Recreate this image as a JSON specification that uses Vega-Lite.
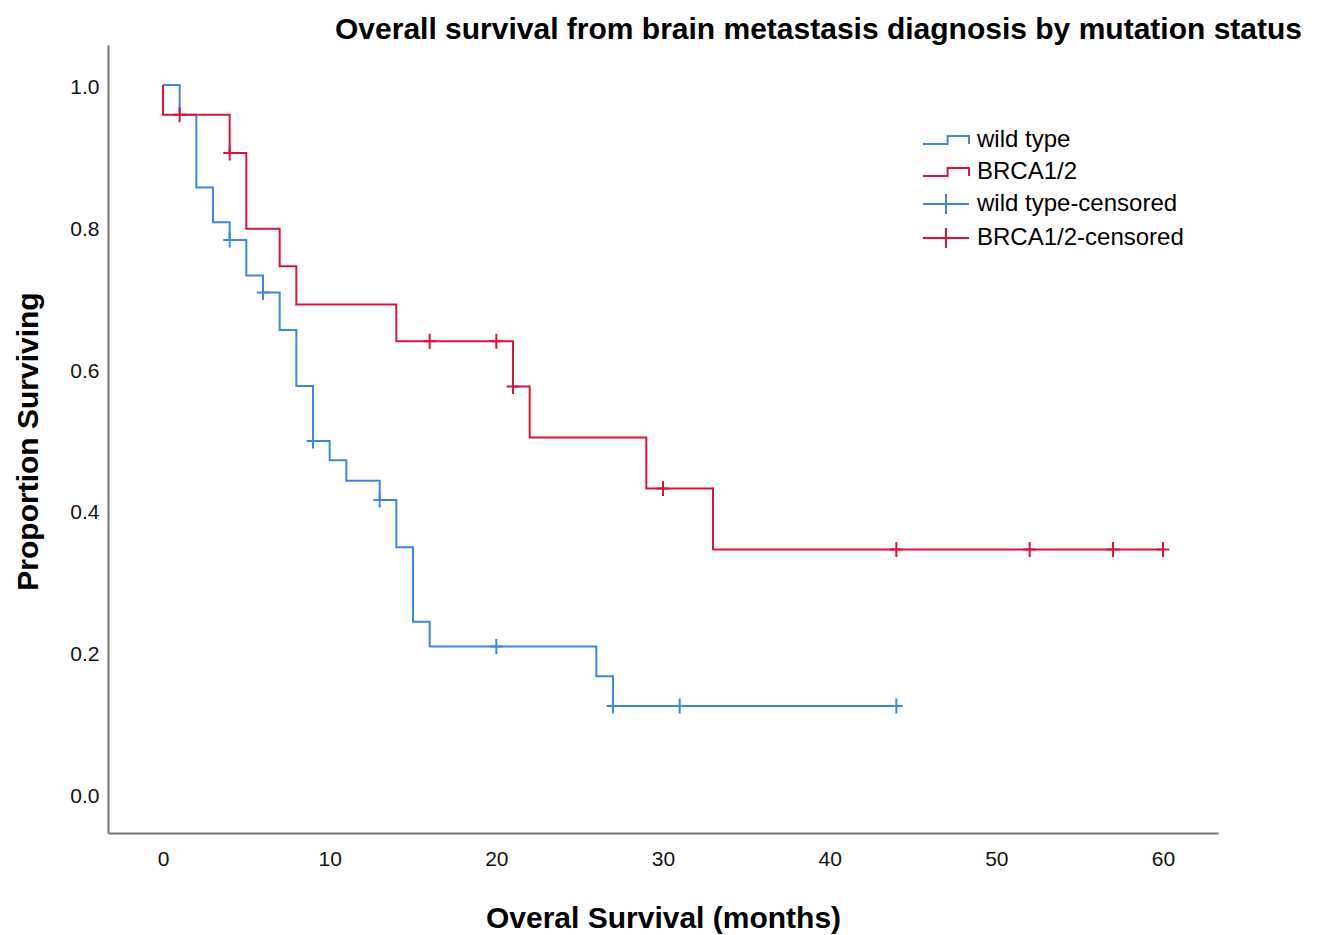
{
  "$schema": "https://vega.github.io/schema/vega-lite/v6.json",
  "width": 1110,
  "height": 788,
  "autosize": {"type": "none"},
  "padding": {"left": 108, "top": 45, "right": 105, "bottom": 102},
  "background": "white",
  "title": {
    "text": "Overall survival from brain metastasis diagnosis by mutation status",
    "anchor": "end",
    "frame": "group",
    "dx": 84,
    "dy": 32,
    "offset": 8,
    "baseline": "alphabetic",
    "fontSize": 30,
    "fontWeight": "bold",
    "font": "Liberation Sans",
    "color": "#000000"
  },
  "resolve": {
    "scale": {"color": "independent", "shape": "independent"},
    "legend": {"color": "independent", "shape": "independent"}
  },
  "config": {
    "view": {"stroke": null},
    "font": "Liberation Sans",
    "axis": {
      "grid": false,
      "ticks": false,
      "domainColor": "#767676",
      "domainWidth": 2,
      "labelFont": "Liberation Sans",
      "labelFontSize": 21,
      "labelColor": "#111111",
      "labelFlush": false,
      "labelOverlap": false,
      "titleFont": "Liberation Sans",
      "titleFontSize": 30,
      "titleFontWeight": "bold",
      "titleColor": "#000000"
    }
  },
  "datasets": {
    "curves": [
      {"series": "wild type", "t": 0, "s": 1.0, "k": 0},
      {"series": "wild type", "t": 1, "s": 0.958, "k": 1},
      {"series": "wild type", "t": 2, "s": 0.855, "k": 2},
      {"series": "wild type", "t": 3, "s": 0.806, "k": 3},
      {"series": "wild type", "t": 4, "s": 0.781, "k": 4},
      {"series": "wild type", "t": 5, "s": 0.731, "k": 5},
      {"series": "wild type", "t": 6, "s": 0.707, "k": 6},
      {"series": "wild type", "t": 7, "s": 0.654, "k": 7},
      {"series": "wild type", "t": 8, "s": 0.575, "k": 8},
      {"series": "wild type", "t": 9, "s": 0.497, "k": 9},
      {"series": "wild type", "t": 10, "s": 0.470, "k": 10},
      {"series": "wild type", "t": 11, "s": 0.441, "k": 11},
      {"series": "wild type", "t": 13, "s": 0.414, "k": 12},
      {"series": "wild type", "t": 14, "s": 0.347, "k": 13},
      {"series": "wild type", "t": 15, "s": 0.242, "k": 14},
      {"series": "wild type", "t": 16, "s": 0.207, "k": 15},
      {"series": "wild type", "t": 26, "s": 0.165, "k": 16},
      {"series": "wild type", "t": 27, "s": 0.123, "k": 17},
      {"series": "wild type", "t": 44, "s": 0.123, "k": 18},
      {"series": "BRCA1/2", "t": 0, "s": 1.0, "k": 0},
      {"series": "BRCA1/2", "t": 0, "s": 0.958, "k": 1},
      {"series": "BRCA1/2", "t": 4, "s": 0.904, "k": 2},
      {"series": "BRCA1/2", "t": 5, "s": 0.797, "k": 3},
      {"series": "BRCA1/2", "t": 7, "s": 0.744, "k": 4},
      {"series": "BRCA1/2", "t": 8, "s": 0.690, "k": 5},
      {"series": "BRCA1/2", "t": 14, "s": 0.638, "k": 6},
      {"series": "BRCA1/2", "t": 21, "s": 0.574, "k": 7},
      {"series": "BRCA1/2", "t": 22, "s": 0.502, "k": 8},
      {"series": "BRCA1/2", "t": 29, "s": 0.430, "k": 9},
      {"series": "BRCA1/2", "t": 33, "s": 0.344, "k": 10},
      {"series": "BRCA1/2", "t": 60, "s": 0.344, "k": 11}
    ],
    "censored": [
      {"series": "wild type-censored", "t": 4, "s": 0.781},
      {"series": "wild type-censored", "t": 6, "s": 0.707},
      {"series": "wild type-censored", "t": 9, "s": 0.497},
      {"series": "wild type-censored", "t": 13, "s": 0.414},
      {"series": "wild type-censored", "t": 20, "s": 0.207},
      {"series": "wild type-censored", "t": 27, "s": 0.123},
      {"series": "wild type-censored", "t": 31, "s": 0.123},
      {"series": "wild type-censored", "t": 44, "s": 0.123},
      {"series": "BRCA1/2-censored", "t": 1, "s": 0.958},
      {"series": "BRCA1/2-censored", "t": 4, "s": 0.904},
      {"series": "BRCA1/2-censored", "t": 16, "s": 0.638},
      {"series": "BRCA1/2-censored", "t": 20, "s": 0.638},
      {"series": "BRCA1/2-censored", "t": 21, "s": 0.574},
      {"series": "BRCA1/2-censored", "t": 30, "s": 0.430},
      {"series": "BRCA1/2-censored", "t": 44, "s": 0.344},
      {"series": "BRCA1/2-censored", "t": 52, "s": 0.344},
      {"series": "BRCA1/2-censored", "t": 57, "s": 0.344},
      {"series": "BRCA1/2-censored", "t": 60, "s": 0.344}
    ]
  },
  "encoding": {
    "x": {
      "field": "t",
      "type": "quantitative",
      "scale": {"domain": [-3.3, 63.3], "nice": false, "zero": false},
      "axis": {
        "values": [0, 10, 20, 30, 40, 50, 60],
        "title": "Overal Survival (months)",
        "labelPadding": 15,
        "titleX": 555,
        "titleY": 94,
        "titleAlign": "center",
        "titleBaseline": "alphabetic"
      }
    },
    "y": {
      "field": "s",
      "type": "quantitative",
      "scale": {"domain": [-0.0564, 1.0564], "nice": false, "zero": false},
      "axis": {
        "values": [0, 0.2, 0.4, 0.6, 0.8, 1.0],
        "format": ".1f",
        "title": "Proportion Surviving",
        "labelPadding": 9,
        "labelOffset": 3,
        "titleX": -71,
        "titleY": 396,
        "titleAngle": 270,
        "titleAlign": "center",
        "titleBaseline": "alphabetic"
      }
    }
  },
  "layer": [
    {
      "data": {"name": "curves"},
      "mark": {"type": "line", "interpolate": "step-after", "strokeWidth": 2},
      "encoding": {
        "color": {
          "field": "series",
          "type": "nominal",
          "scale": {
            "domain": ["wild type", "BRCA1/2"],
            "range": ["#3c88e0", "#dc143c"]
          },
          "legend": null
        },
        "order": {"field": "k", "type": "quantitative"}
      }
    },
    {
      "data": {"name": "censored"},
      "mark": {
        "type": "point",
        "shape": "M-0.85,0H0.85M0,-1V1",
        "size": 225,
        "filled": false,
        "strokeWidth": 2,
        "opacity": 1
      },
      "encoding": {
        "color": {
          "field": "series",
          "type": "nominal",
          "scale": {
            "domain": ["wild type-censored", "BRCA1/2-censored"],
            "range": ["#3c88e0", "#dc143c"]
          },
          "legend": null
        }
      }
    },
    {
      "data": {"name": "censored"},
      "mark": {"type": "point", "filled": false, "strokeWidth": 2, "opacity": 1, "size": 0},
      "encoding": {
        "color": {
          "field": "series",
          "type": "nominal",
          "scale": {
            "domain": ["wild type", "BRCA1/2", "wild type-censored", "BRCA1/2-censored"],
            "range": ["#3c88e0", "#dc143c", "#3c88e0", "#dc143c"]
          },
          "legend": {
            "title": null,
            "orient": "none",
            "legendX": 821,
            "legendY": 78,
            "padding": 0,
            "symbolSize": 1024,
            "symbolStrokeWidth": 2,
            "symbolFillColor": "transparent",
            "labelFontSize": 24,
            "labelFont": "Liberation Sans",
            "labelColor": "#000000",
            "labelOffset": 14,
            "labelLimit": 400,
            "rowPadding": 3
          }
        },
        "shape": {
          "field": "series",
          "type": "nominal",
          "scale": {
            "domain": ["wild type", "BRCA1/2", "wild type-censored", "BRCA1/2-censored"],
            "range": [
              "M-1.44,0.25H0.1V-0.25H1.44V0.25",
              "M-1.44,0.25H0.1V-0.25H1.44V0.25",
              "M-1.44,0H1.44M0,-0.62V0.62",
              "M-1.44,0H1.44M0,-0.62V0.62"
            ]
          },
          "legend": {
            "title": null,
            "orient": "none",
            "legendX": 821,
            "legendY": 78,
            "padding": 0,
            "symbolSize": 1024,
            "symbolStrokeWidth": 2,
            "symbolFillColor": "transparent",
            "labelFontSize": 24,
            "labelFont": "Liberation Sans",
            "labelColor": "#000000",
            "labelOffset": 14,
            "labelLimit": 400,
            "rowPadding": 3
          }
        }
      }
    }
  ]
}
